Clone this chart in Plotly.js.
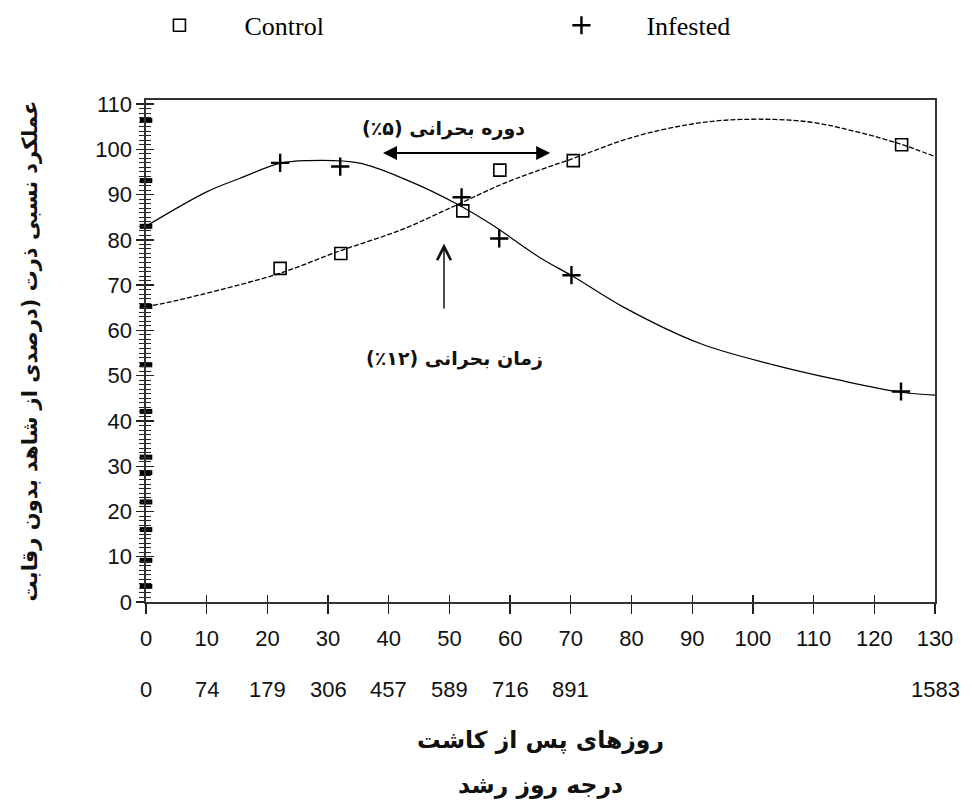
<!DOCTYPE html>
<html><head><meta charset="utf-8">
<script src="https://cdn.plot.ly/plotly-3.0.1.min.js"></script>
<style>html,body{margin:0;padding:0;background:#fff}</style>
</head><body><div id="chart" style="width:973px;height:801px"></div>
<script>
// ---- data ----
const legendNames = ['Control', 'Infested'];
const controlX = [22.1, 32.1, 52.2, 58.3, 70.4, 124.5];
const controlY = [73.7, 77.0, 86.4, 95.4, 97.5, 101.0];
const infestedX = [22.1, 32.0, 52.0, 58.2, 70.1, 124.4];
const infestedY = [97.0, 96.2, 89.4, 80.3, 72.2, 46.5];
const controlFitX = [0, 5, 12, 22, 32, 42, 51, 59, 65, 70, 80, 90, 98, 109, 117, 124, 130];
const controlFitY = [65.2, 66.6, 68.9, 72.6, 77.6, 82.2, 87.6, 92.5, 95.5, 97.8, 102.6, 105.6, 106.6, 106.1, 103.9, 101.3, 98.4];
const infestedFitX = [0, 10, 15.5, 22, 26.5, 35, 43, 51, 56.7, 65, 70.4, 78.6, 91.3, 103.4, 114.3, 124.2, 130];
const infestedFitY = [83, 90.6, 93.6, 96.9, 97.5, 97, 93.2, 88.1, 83.6, 76, 71.9, 65.2, 57.1, 52.4, 49, 46.4, 45.7];
const axisPointsX = [0, 0, 0, 0, 0, 0, 0, 0, 0, 0, 0, 0];
const axisPointsY = [106.4, 93.1, 83.0, 65.3, 52.4, 42.1, 32.0, 28.6, 22.1, 16.0, 9.2, 3.5];
const gddTickVals = [0, 10, 20, 30, 40, 50, 60, 70, 130];
const gddTickText = ['0', '74', '179', '306', '457', '589', '716', '891', '1583'];
const criticalPeriodText = 'دوره بحرانی (۵٪)';
const criticalTimeText = 'زمان بحرانی (۱۲٪)';
const yTitle = 'عملکرد نسبی ذرت (درصدی از شاهد بدون رقابت';
const xTitle1 = 'روزهای پس از کاشت';
const xTitle2 = 'درجه روز رشد';

const RLE = '\u202B', PDF = '\u202C';
const rtl = s => RLE + s + PDF;
const faBold = size => ({family: 'DejaVu Sans', size: size, color: '#111', weight: 700});
const numFont = {family: 'Liberation Sans', size: 22, color: '#111'};
const X_RANGE = [0, 130], Y_RANGE = [0, 110.9];

const traces = [
  {x: controlFitX, y: controlFitY, mode: 'lines', showlegend: false, hoverinfo: 'skip',
   line: {color: '#000', width: 1.3, dash: '5px,2px', shape: 'spline'}},
  {x: infestedFitX, y: infestedFitY, mode: 'lines', showlegend: false, hoverinfo: 'skip',
   line: {color: '#000', width: 1.2, shape: 'spline'}},
  {x: controlX, y: controlY, mode: 'markers', name: legendNames[0],
   marker: {symbol: 'square-open', size: 12, color: '#000', line: {width: 1.6, color: '#000'}}},
  {x: infestedX, y: infestedY, mode: 'markers', name: legendNames[1],
   marker: {symbol: 'cross-thin-open', size: 13, color: '#000', line: {width: 2.4, color: '#000'}}},
  {x: axisPointsX, y: axisPointsY, xaxis: 'x3', yaxis: 'y2', mode: 'markers', showlegend: false,
   hoverinfo: 'skip', cliponaxis: false,
   marker: {symbol: 'line-ew-open', size: 9, color: '#000', line: {width: 5, color: '#000'}}}
];

// second row of x labels (growing degree days) placed on the day scale
const gddAnnotations = gddTickVals.map((v, i) => ({
  x: v, xref: 'x', y: 0.1462, yref: 'paper', yanchor: 'middle', text: gddTickText[i],
  showarrow: false, font: numFont
}));

const layout = {
  width: 973, height: 801,
  margin: {l: 146, r: 38, t: 100, b: 10, autoexpand: false},
  paper_bgcolor: '#fff', plot_bgcolor: '#fff',
  showlegend: true,
  legend: {orientation: 'h', x: -0.04, xanchor: 'left', y: 1.108, yanchor: 'middle',
           font: {family: 'Liberation Serif', size: 26, color: '#000'},
           itemwidth: 120, entrywidth: 267, entrywidthmode: 'pixels'},
  xaxis: {range: X_RANGE, tickmode: 'linear', tick0: 0, dtick: 10, ticks: 'outside', ticklen: 10,
          tickwidth: 1.3, tickcolor: '#222', showline: true, linecolor: '#333', linewidth: 1.6,
          mirror: true, showgrid: false, zeroline: false, tickfont: numFont, ticklabelstandoff: 6,
          anchor: 'y'},
  xaxis3: {range: X_RANGE, overlaying: 'x', anchor: 'y', side: 'bottom', tickmode: 'linear',
           tick0: 0, dtick: 10, ticks: 'inside', ticklen: 7, tickwidth: 1.3, tickcolor: '#222',
           showticklabels: false, showline: false, showgrid: false, zeroline: false},
  yaxis: {range: Y_RANGE, domain: [0.2735, 1], tickmode: 'linear', tick0: 0, dtick: 10,
          ticks: 'outside', ticklen: 8, tickwidth: 1.3, tickcolor: '#222', showline: true,
          linecolor: '#333', linewidth: 1.6, mirror: true, showgrid: false, zeroline: false,
          tickfont: numFont,
          minor: {dtick: 1, ticks: 'outside', ticklen: 5, tickwidth: 1, tickcolor: '#222'},
          title: {text: rtl(yTitle), font: faBold(21), standoff: 52}},
  yaxis2: {range: Y_RANGE, overlaying: 'y', anchor: 'x', side: 'left', tickmode: 'linear',
           tick0: 0, dtick: 10, ticks: 'inside', ticklen: 8, tickwidth: 1.3, tickcolor: '#222',
           showticklabels: false, showline: false, showgrid: false, zeroline: false,
           minor: {dtick: 1, ticks: 'inside', ticklen: 5, tickwidth: 1, tickcolor: '#222'}},
  annotations: [
    {x: 66.6, y: 99.2, ax: 38.8, ay: 99.2, axref: 'x', ayref: 'y', xref: 'x', yref: 'y', text: '',
     showarrow: true, arrowside: 'end+start', arrowhead: 2, startarrowhead: 2, arrowsize: 1.4,
     startarrowsize: 1.4, arrowwidth: 2, arrowcolor: '#000'},
    {x: 49.0, y: 104.6, xref: 'x', yref: 'y', text: rtl(criticalPeriodText), showarrow: false,
     font: faBold(19)},
    {x: 49.1, y: 79.2, ax: 49.1, ay: 64.5, axref: 'x', ayref: 'y', xref: 'x', yref: 'y', text: '',
     showarrow: true, arrowhead: 5, arrowsize: 1.8, arrowwidth: 1.5, arrowcolor: '#111'},
    {x: 50.9, y: 53.9, xref: 'x', yref: 'y', text: rtl(criticalTimeText), showarrow: false,
     font: faBold(19)},
    {x: 0.5, y: 0.0738, xref: 'paper', yref: 'paper', text: rtl(xTitle1), showarrow: false,
     font: faBold(23.5), yanchor: 'middle'},
    {x: 0.5, y: 0.0087, xref: 'paper', yref: 'paper', text: rtl(xTitle2), showarrow: false,
     font: faBold(23.5), yanchor: 'middle'}
  ].concat(gddAnnotations)
};

Plotly.newPlot('chart', traces, layout, {displayModeBar: false, staticPlot: true});
</script></body></html>
